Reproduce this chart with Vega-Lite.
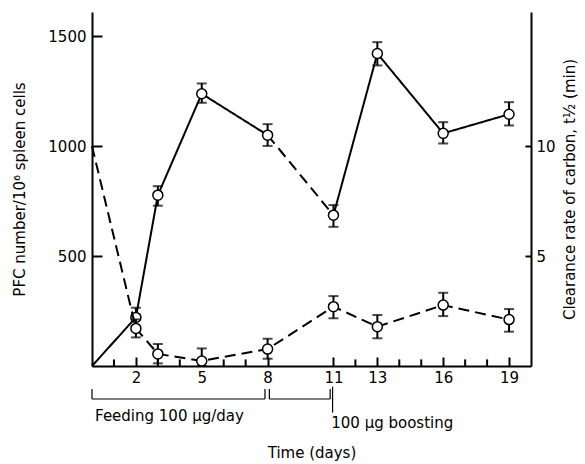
{
  "$schema": "https://vega.github.io/schema/vega-lite/v6.json",
  "width": 439,
  "height": 354,
  "autosize": {"type": "none"},
  "padding": {"left": 92, "top": 12, "right": 54, "bottom": 98},
  "background": "white",
  "config": {
    "view": {"stroke": null},
    "font": "DejaVu Sans",
    "axis": {
      "domainColor": "black", "domainWidth": 2, "tickColor": "black", "tickWidth": 2,
      "labelColor": "black", "titleColor": "black", "labelFontSize": 15, "titleFontSize": 15,
      "titleFontWeight": "normal", "grid": false, "labelOverlap": false
    }
  },
  "datasets": {
    "pfc_line": [
      {"day": 0, "pfc": 0, "seg": "A", "style": "solid"},
      {"day": 2, "pfc": 221, "seg": "A", "style": "solid"},
      {"day": 3, "pfc": 777, "seg": "A", "style": "solid"},
      {"day": 5, "pfc": 1238, "seg": "A", "style": "solid"},
      {"day": 8, "pfc": 1050, "seg": "A", "style": "solid"},
      {"day": 8, "pfc": 1050, "seg": "B", "style": "dashed"},
      {"day": 11, "pfc": 686, "seg": "B", "style": "dashed"},
      {"day": 11, "pfc": 686, "seg": "C", "style": "solid"},
      {"day": 13, "pfc": 1421, "seg": "C", "style": "solid"},
      {"day": 16, "pfc": 1058, "seg": "C", "style": "solid"},
      {"day": 19, "pfc": 1145, "seg": "C", "style": "solid"}
    ],
    "pfc_pts": [
      {"day": 2, "pfc": 221, "lo": 177, "hi": 265},
      {"day": 3, "pfc": 777, "lo": 729, "hi": 818},
      {"day": 5, "pfc": 1238, "lo": 1197, "hi": 1285},
      {"day": 8, "pfc": 1050, "lo": 1001, "hi": 1100},
      {"day": 11, "pfc": 686, "lo": 633, "hi": 732},
      {"day": 13, "pfc": 1421, "lo": 1367, "hi": 1473},
      {"day": 16, "pfc": 1058, "lo": 1012, "hi": 1109},
      {"day": 19, "pfc": 1145, "lo": 1094, "hi": 1200}
    ],
    "clr_line": [
      {"day": 0, "t": 10.0},
      {"day": 2, "t": 1.71},
      {"day": 3, "t": 0.55},
      {"day": 5, "t": 0.23},
      {"day": 8, "t": 0.77},
      {"day": 11, "t": 2.70},
      {"day": 13, "t": 1.79},
      {"day": 16, "t": 2.77},
      {"day": 19, "t": 2.11}
    ],
    "clr_pts": [
      {"day": 2, "t": 1.71, "lo": 1.30, "hi": 2.12},
      {"day": 3, "t": 0.55, "lo": 0.12, "hi": 1.00},
      {"day": 5, "t": 0.23, "lo": 0.0, "hi": 0.80},
      {"day": 8, "t": 0.77, "lo": 0.33, "hi": 1.24},
      {"day": 11, "t": 2.70, "lo": 2.17, "hi": 3.18},
      {"day": 13, "t": 1.79, "lo": 1.26, "hi": 2.32},
      {"day": 16, "t": 2.77, "lo": 2.27, "hi": 3.33},
      {"day": 19, "t": 2.11, "lo": 1.56, "hi": 2.59}
    ],
    "minor_ticks": [
      {"day": 1, "y0": 0, "y1": 30},
      {"day": 3, "y0": 0, "y1": 30},
      {"day": 4, "y0": 0, "y1": 30},
      {"day": 6, "y0": 0, "y1": 30},
      {"day": 7, "y0": 0, "y1": 30},
      {"day": 12, "y0": 0, "y1": 30},
      {"day": 14, "y0": 0, "y1": 30},
      {"day": 15, "y0": 0, "y1": 30},
      {"day": 17, "y0": 0, "y1": 30},
      {"day": 18, "y0": 0, "y1": 30}
    ],
    "brackets": [
      {"x": 0, "x2": 7.88, "y": -150, "y2": -150},
      {"x": 0, "x2": 0, "y": -105, "y2": -150},
      {"x": 7.88, "x2": 7.88, "y": -105, "y2": -150},
      {"x": 8.08, "x2": 10.85, "y": -150, "y2": -150},
      {"x": 8.08, "x2": 8.08, "y": -105, "y2": -150},
      {"x": 10.85, "x2": 10.85, "y": -105, "y2": -150},
      {"x": 10.96, "x2": 10.96, "y": -94, "y2": -212}
    ],
    "notes": [
      {"day": 0.14, "y": -227, "label": "Feeding 100 μg/day"},
      {"day": 10.9, "y": -259, "label": "100 μg boosting"}
    ]
  },
  "layer": [
    {
      "layer": [
        {
          "data": {"name": "pfc_line"},
          "mark": {"type": "line", "color": "black", "strokeWidth": 2},
          "encoding": {
            "x": {"field": "day", "type": "quantitative", "title": "Time (days)", "scale": {"domain": [0, 20], "nice": false},
              "axis": {"values": [2, 5, 8, 11, 13, 16, 19], "labelOverlap": false, "labelBound": false,
                "tickSize": -9, "labelPadding": 13, "titlePadding": 60, "labelFlush": false}},
            "y": {"field": "pfc", "type": "quantitative", "title": "PFC number/10⁶ spleen cells", "scale": {"domain": [0, 1610], "nice": false},
              "axis": {"values": [500, 1000, 1500], "format": "d", "tickSize": -10,
                "labelPadding": 16, "titlePadding": 20}},
            "detail": {"field": "seg"},
            "strokeDash": {"field": "style", "type": "nominal",
              "scale": {"domain": ["solid", "dashed"], "range": [[1, 0], [11, 6]]}, "legend": null}
          }
        },
        {
          "data": {"name": "minor_ticks"},
          "mark": {"type": "rule", "color": "black", "strokeWidth": 2},
          "encoding": {
            "x": {"field": "day", "type": "quantitative", "title": "Time (days)"},
            "y": {"field": "y0", "type": "quantitative", "title": "PFC number/10⁶ spleen cells", "scale": {"domain": [0, 1610], "nice": false}},
            "y2": {"field": "y1"}
          }
        },
        {
          "data": {"name": "pfc_pts"},
          "mark": {"type": "errorbar", "ticks": true, "size": 10, "thickness": 2, "color": "black"},
          "encoding": {
            "x": {"field": "day", "type": "quantitative", "title": "Time (days)"},
            "y": {"field": "lo", "type": "quantitative", "title": "PFC number/10⁶ spleen cells", "scale": {"domain": [0, 1610], "nice": false}},
            "y2": {"field": "hi"}
          }
        },
        {
          "data": {"name": "pfc_pts"},
          "mark": {"type": "point", "shape": "circle", "filled": true, "fill": "white", "stroke": "black", "strokeWidth": 1.5, "size": 100, "opacity": 1},
          "encoding": {
            "x": {"field": "day", "type": "quantitative", "title": "Time (days)"},
            "y": {"field": "pfc", "type": "quantitative", "title": "PFC number/10⁶ spleen cells", "scale": {"domain": [0, 1610], "nice": false}}
          }
        },
        {
          "data": {"name": "brackets"},
          "mark": {"type": "rule", "color": "black", "strokeWidth": 1.2},
          "encoding": {
            "x": {"field": "x", "type": "quantitative", "title": "Time (days)"},
            "x2": {"field": "x2"},
            "y": {"field": "y", "type": "quantitative", "title": "PFC number/10⁶ spleen cells", "scale": {"domain": [0, 1610], "nice": false}},
            "y2": {"field": "y2"}
          }
        },
        {
          "data": {"name": "notes"},
          "mark": {"type": "text", "align": "left", "baseline": "middle", "fontSize": 15, "color": "black"},
          "encoding": {
            "x": {"field": "day", "type": "quantitative", "title": "Time (days)"},
            "y": {"field": "y", "type": "quantitative", "title": "PFC number/10⁶ spleen cells", "scale": {"domain": [0, 1610], "nice": false}},
            "text": {"field": "label"}
          }
        }
      ]
    },
    {
      "layer": [
        {
          "data": {"name": "clr_line"},
          "mark": {"type": "line", "color": "black", "strokeWidth": 2, "strokeDash": [11, 6]},
          "encoding": {
            "x": {"field": "day", "type": "quantitative", "title": "Time (days)"},
            "y": {"field": "t", "type": "quantitative", "title": "Clearance rate of carbon, t½ (min)", "scale": {"domain": [0, 16.1], "nice": false},
              "axis": {"orient": "right", "values": [5, 10],
                "tickSize": -6, "labelPadding": 11, "titlePadding": 22, "titleAngle": 270}}
          }
        },
        {
          "data": {"name": "clr_pts"},
          "mark": {"type": "errorbar", "ticks": true, "size": 10, "thickness": 2, "color": "black"},
          "encoding": {
            "x": {"field": "day", "type": "quantitative", "title": "Time (days)"},
            "y": {"field": "lo", "type": "quantitative", "title": "Clearance rate of carbon, t½ (min)", "scale": {"domain": [0, 16.1], "nice": false}},
            "y2": {"field": "hi"}
          }
        },
        {
          "data": {"name": "clr_pts"},
          "mark": {"type": "point", "shape": "circle", "filled": true, "fill": "white", "stroke": "black", "strokeWidth": 1.5, "size": 100, "opacity": 1},
          "encoding": {
            "x": {"field": "day", "type": "quantitative", "title": "Time (days)"},
            "y": {"field": "t", "type": "quantitative", "title": "Clearance rate of carbon, t½ (min)", "scale": {"domain": [0, 16.1], "nice": false}}
          }
        }
      ]
    }
  ],
  "resolve": {"scale": {"y": "independent"}}
}
